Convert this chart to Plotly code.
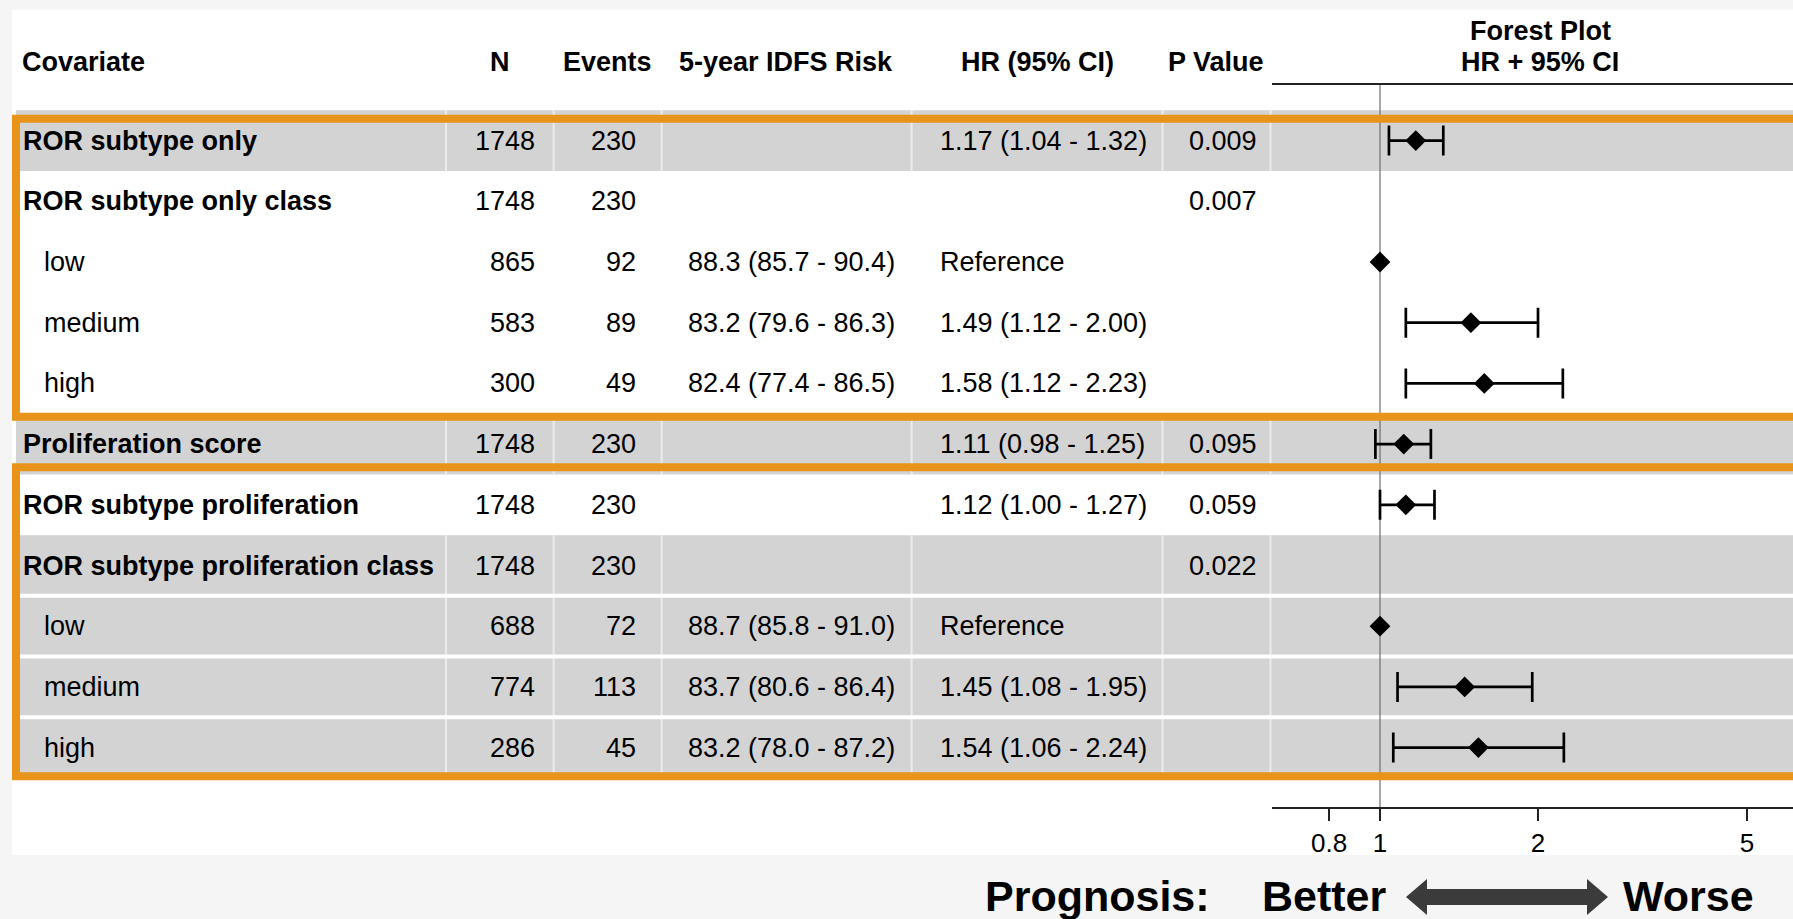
import plotly.graph_objects as go

# Table rows, top to bottom
covariates = ["ROR subtype only", "ROR subtype only class", "low", "medium", "high",
              "Proliferation score", "ROR subtype proliferation", "ROR subtype proliferation class",
              "low", "medium", "high"]
is_level = [False, False, True, True, True, False, False, False, True, True, True]
n_patients = [1748, 1748, 865, 583, 300, 1748, 1748, 1748, 688, 774, 286]
n_events = [230, 230, 92, 89, 49, 230, 230, 230, 72, 113, 45]
idfs_risk = ["", "", "88.3 (85.7 - 90.4)", "83.2 (79.6 - 86.3)", "82.4 (77.4 - 86.5)",
             "", "", "", "88.7 (85.8 - 91.0)", "83.7 (80.6 - 86.4)", "83.2 (78.0 - 87.2)"]
hr = [1.17, None, 1.00, 1.49, 1.58, 1.11, 1.12, None, 1.00, 1.45, 1.54]
hr_low = [1.04, None, None, 1.12, 1.12, 0.98, 1.00, None, None, 1.08, 1.06]
hr_high = [1.32, None, None, 2.00, 2.23, 1.25, 1.27, None, None, 1.95, 2.24]
p_values = ["0.009", "0.007", "", "", "", "0.095", "0.059", "0.022", "", "", ""]
shaded = [True, False, False, False, False, True, False, True, True, True, True]
groups = [(0, 4), (6, 10)]  # rows inside the orange boxes
tick_vals = [0.8, 1, 2, 5]
tick_text = ["0.8", "1", "2", "5"]

# page geometry (pixels)
W, H = 1793, 919
ROW0, ROW_H = 140.6, 60.7
FONT = "Liberation Sans, Arial, sans-serif"
GRAY = "#d3d3d3"
ORANGE = "#e8941a"


def px(x):
    return x / W


def py(y):
    return 1 - y / H


def row_at(y):
    return (y - ROW0) / ROW_H


rows = list(range(len(covariates)))

# hazard ratio text column
hr_text = []
for h, lo, hi in zip(hr, hr_low, hr_high):
    if h is None:
        hr_text.append("")
    elif lo is None:
        hr_text.append("Reference")
    else:
        hr_text.append(f"{h:.2f} ({lo:.2f} - {hi:.2f})")

fig = go.Figure()

# CI rows
ci_rows = [i for i in rows if hr_low[i] is not None]
fig.add_trace(go.Scatter(
    x=[hr[i] for i in ci_rows], y=ci_rows, mode="markers",
    marker=dict(symbol="diamond", size=16, color="black"),
    error_x=dict(type="data", symmetric=False,
                 array=[hr_high[i] - hr[i] for i in ci_rows],
                 arrayminus=[hr[i] - hr_low[i] for i in ci_rows],
                 color="black", thickness=2.7, width=15),
    hoverinfo="skip", showlegend=False))
# reference levels
ref_rows = [i for i in rows if hr[i] is not None and hr_low[i] is None]
fig.add_trace(go.Scatter(
    x=[hr[i] for i in ref_rows], y=ref_rows, mode="markers",
    marker=dict(symbol="diamond", size=16, color="black"),
    hoverinfo="skip", showlegend=False))

shapes = []
# white panel
shapes.append(dict(type="rect", xref="paper", yref="paper", x0=px(12), x1=1, y0=py(855), y1=py(10),
                   fillcolor="white", line_width=0, layer="below"))
# shaded rows
col_bounds = [446, 553.6, 661.6, 911.6, 1162.5, 1270.5]
for i in rows:
    if shaded[i]:
        shapes.append(dict(type="rect", xref="paper", yref="y", x0=px(16), x1=1.01,
                           y0=i - 0.5, y1=i + 0.5, fillcolor=GRAY, line_width=0, layer="below"))
        for cb in col_bounds:
            shapes.append(dict(type="line", xref="paper", yref="y", x0=px(cb), x1=px(cb),
                               y0=i - 0.5, y1=i + 0.5, line=dict(color="#ececec", width=2),
                               layer="below"))
for i in rows[:-1]:
    if shaded[i] and shaded[i + 1]:
        shapes.append(dict(type="line", xref="paper", yref="y", x0=px(16), x1=1.01,
                           y0=i + 0.5, y1=i + 0.5, line=dict(color="white", width=4),
                           layer="below"))
# line of no effect
shapes.append(dict(type="line", xref="x", yref="y domain", x0=1, x1=1, y0=0, y1=1,
                   line=dict(color="#6e6e6e", width=1.2), layer="below"))
# orange boxes
offsets = [(0.14, 0.05), (-0.12, -0.03)]
for (a, b), (da, db) in zip(groups, offsets):
    shapes.append(dict(type="rect", xref="paper", yref="y", x0=px(16), x1=1.02,
                       y0=a - 0.5 + da, y1=b + 0.5 + db, line=dict(color=ORANGE, width=8),
                       fillcolor="rgba(0,0,0,0)", layer="below"))
# double arrow
ax0, ax1, ay = 1406, 1608, 897
head, sh, hh = 21, 8, 18
path = (f"M {px(ax0)} {py(ay)} L {px(ax0 + head)} {py(ay - hh)} L {px(ax0 + head)} {py(ay - sh)} "
        f"L {px(ax1 - head)} {py(ay - sh)} L {px(ax1 - head)} {py(ay - hh)} L {px(ax1)} {py(ay)} "
        f"L {px(ax1 - head)} {py(ay + hh)} L {px(ax1 - head)} {py(ay + sh)} L {px(ax0 + head)} {py(ay + sh)} "
        f"L {px(ax0 + head)} {py(ay + hh)} Z")
shapes.append(dict(type="path", xref="paper", yref="paper", path=path,
                   fillcolor="#3b3b3b", line_width=0))

annotations = []


def add_text(text, x, y, anchor, size=27, bold=False, yref="y"):
    annotations.append(dict(text=f"<b>{text}</b>" if bold else text, x=x, y=y,
                            xref="paper", yref=yref, xanchor=anchor, yanchor="middle",
                            showarrow=False, font=dict(family=FONT, size=size, color="black")))


# headers
hy = py(62)
add_text("Covariate", px(20), hy, "left", bold=True, yref="paper")
add_text("N", px(500), hy, "center", bold=True, yref="paper")
add_text("Events", px(607), hy, "center", bold=True, yref="paper")
add_text("5-year IDFS Risk", px(786), hy, "center", bold=True, yref="paper")
add_text("HR (95% CI)", px(1037), hy, "center", bold=True, yref="paper")
add_text("P Value", px(1216), hy, "center", bold=True, yref="paper")
add_text("Forest Plot", px(1540), py(31), "center", bold=True, yref="paper")
add_text("HR + 95% CI", px(1540), py(62), "center", bold=True, yref="paper")

# body
for i in rows:
    if is_level[i]:
        add_text(covariates[i], px(42), i, "left")
    else:
        add_text(covariates[i], px(21), i, "left", bold=True)
    add_text(str(n_patients[i]), px(537), i, "right")
    add_text(str(n_events[i]), px(638), i, "right")
    if idfs_risk[i]:
        add_text(idfs_risk[i], px(686), i, "left")
    if hr_text[i]:
        add_text(hr_text[i], px(938), i, "left")
    if p_values[i]:
        add_text(p_values[i], px(1259), i, "right")

# prognosis legend
add_text("Prognosis:", px(983), py(896), "left", size=43, bold=True, yref="paper")
add_text("Better", px(1260), py(896), "left", size=43, bold=True, yref="paper")
add_text("Worse", px(1621), py(896), "left", size=43, bold=True, yref="paper")

# forest axis geometry: HR=1 at 1380 px, ~525 px per decade
one_px, decade_px = 1380, 524.9
x_left, x_right = 1272, W
top_px, axis_px = 85, 807

fig.update_layout(
    width=W, height=H, margin=dict(l=0, r=0, t=0, b=0),
    paper_bgcolor="#f5f5f5", plot_bgcolor="rgba(0,0,0,0)",
    shapes=shapes, annotations=annotations, showlegend=False,
    xaxis=dict(type="log", domain=[px(x_left), 1],
               range=[(x_left - one_px) / decade_px, (x_right - one_px) / decade_px],
               showline=True, linecolor="#222", linewidth=2, mirror=True,
               ticks="outside", ticklen=12, tickwidth=1.5, tickcolor="#222",
               tickvals=tick_vals, ticktext=tick_text, showgrid=False, zeroline=False,
               tickfont=dict(family=FONT, size=26, color="black")),
    yaxis=dict(domain=[py(axis_px), py(top_px)],
               range=[row_at(axis_px), row_at(top_px)],
               visible=False, showgrid=False, zeroline=False),
)

fig.write_html("out.html", config={"displayModeBar": False},
               post_script="document.body.style.margin='0';")
